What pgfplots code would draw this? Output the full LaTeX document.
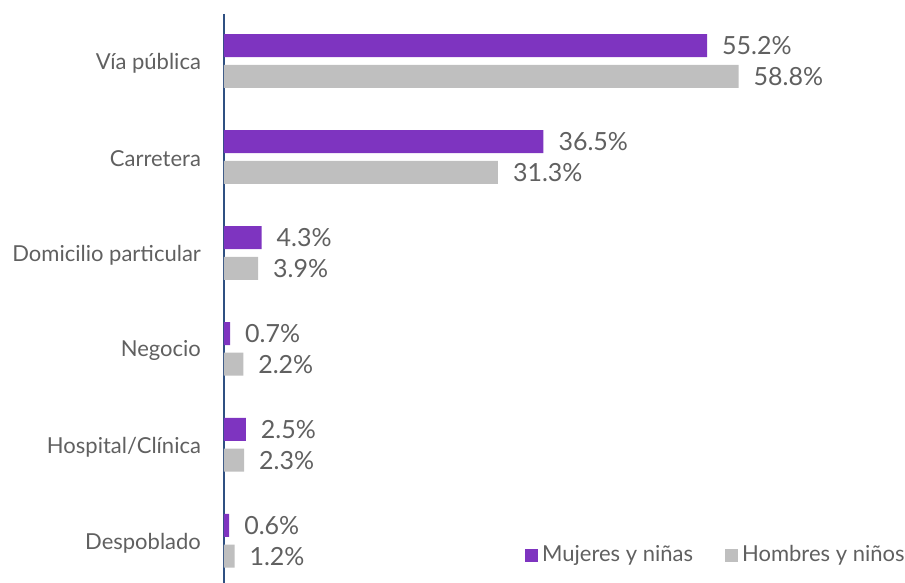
\documentclass[border=0pt]{standalone}
\usepackage{fontspec}
\setmainfont{Lato}
\usepackage{pgfplots}
\pgfplotsset{compat=1.18}
\definecolor{mujPurple}{RGB}{126,52,192}
\definecolor{homGray}{RGB}{191,191,191}
\definecolor{axisBlue}{RGB}{47,80,130}
\definecolor{txtGray}{RGB}{96,96,96}

\begin{document}
\begin{tikzpicture}[font=\fontsize{11pt}{13pt}\selectfont]
  % fixed frame: 0.5pt per pixel of the 905x583 reference
  \useasboundingbox (-112pt,0pt) rectangle (340.5pt,291.5pt);
  \begin{axis}[
      xbar,
      at={(0,0)}, anchor=south west,
      scale only axis,
      width=340.5pt,
      height=284.5pt,
      xmin=0, xmax=77.8,
      ymin=-0.49, ymax=5.44,
      y dir=reverse,
      enlarge x limits=false,
      enlarge y limits=false,
      axis x line=none,
      axis y line=left,
      y axis line style={-, draw=axisBlue, line width=1pt},
      ytick={0,1,2,3,4,5},
      yticklabels={V\'ia p\'ublica, Carretera, Domicilio particular, Negocio, Hospital/Cl\'inica, Despoblado},
      major tick length=0pt,
      yticklabel style={text=txtGray, xshift=-8pt, yshift=-1pt},
      bar width=0.24,
      point meta=x,
      /pgf/number format/assume math mode=true,
      nodes near coords={\pgfmathprintnumber[fixed,precision=1,fixed zerofill]{\pgfplotspointmeta}\%},
      nodes near coords style={anchor=west, text=txtGray, xshift=4pt,
        font=\fontsize{12.5pt}{14pt}\selectfont},
      clip=false,
      legend columns=2,
      legend style={at={(rel axis cs:1,0)}, anchor=east, draw=none, fill=none,
        inner sep=0pt, xshift=2pt, yshift=14pt, text=txtGray,
        /tikz/every even column/.append style={column sep=14pt}},
      legend image code/.code={\fill[#1] (0pt,-3.25pt) rectangle (6.5pt,3.25pt);},
    ]
    \addplot[fill=mujPurple, draw=none, bar shift=-0.16] coordinates {
      (55.2,0) (36.5,1) (4.3,2) (0.7,3) (2.5,4) (0.6,5)
    };
    \addplot[fill=homGray, draw=none, bar shift=0.16] coordinates {
      (58.8,0) (31.3,1) (3.9,2) (2.2,3) (2.3,4) (1.2,5)
    };
    \legend{Mujeres y ni\~nas, Hombres y ni\~nos}
  \end{axis}
\end{tikzpicture}
\end{document}
